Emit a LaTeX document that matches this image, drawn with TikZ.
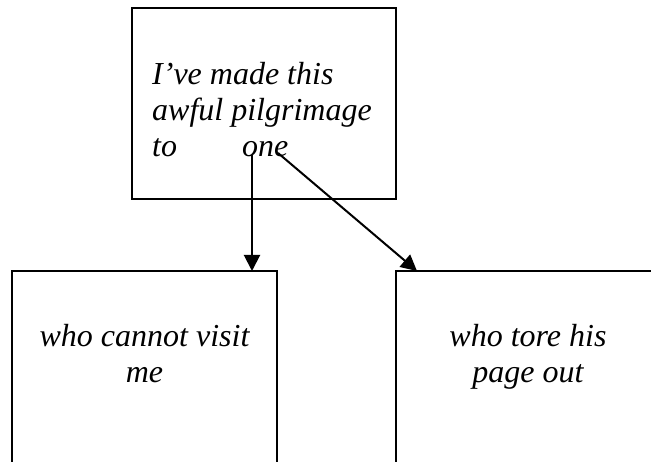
\documentclass[tikz,border=0pt]{standalone}
\usepackage{fontspec}
\setmainfont{Liberation Serif}
\usetikzlibrary{arrows.meta}
\begin{document}
\begin{tikzpicture}[x=1pt,y=-1pt,
  box/.style={draw,line width=1.6pt},
  words/.style={inner sep=0pt,font=\fontsize{32}{37}\selectfont\itshape},
  link/.style={line width=2pt,-{Triangle[length=16pt,width=16pt]}}]
\useasboundingbox (0,0) rectangle (651,462);
\clip (0,0) rectangle (651,462);
% the three frames
\draw[box] (132,8) rectangle (396,199);
\draw[box] (12,271) rectangle (277,480);
\draw[box] (396,271) rectangle (670,480);
% text of the upper frame
\node[words,anchor=base west] (t1) at (152,85) {I’ve made this};
\node[words,anchor=base west] (t2) at (152,121) {awful pilgrimage};
\node[words,anchor=base west] (t3) at (152,157) {\makebox[90pt][l]{to}one};
% text of the lower frames
\node[words,anchor=base] (l1) at (144.5,347) {who cannot visit};
\node[words,anchor=base] (l2) at (144.5,383) {me};
\node[words,anchor=base] (r1) at (528,347) {who tore his};
\node[words,anchor=base] (r2) at (528,383) {page out};
% arrows from the word "one"
\coordinate (s1) at (252,155);
\coordinate (e1) at (252,271);
\coordinate (s2) at (278,153);
\coordinate (e2) at (417,271);
\draw[link] (s1) -- (e1);
\draw[link] (s2) -- (e2);
\end{tikzpicture}
\end{document}
